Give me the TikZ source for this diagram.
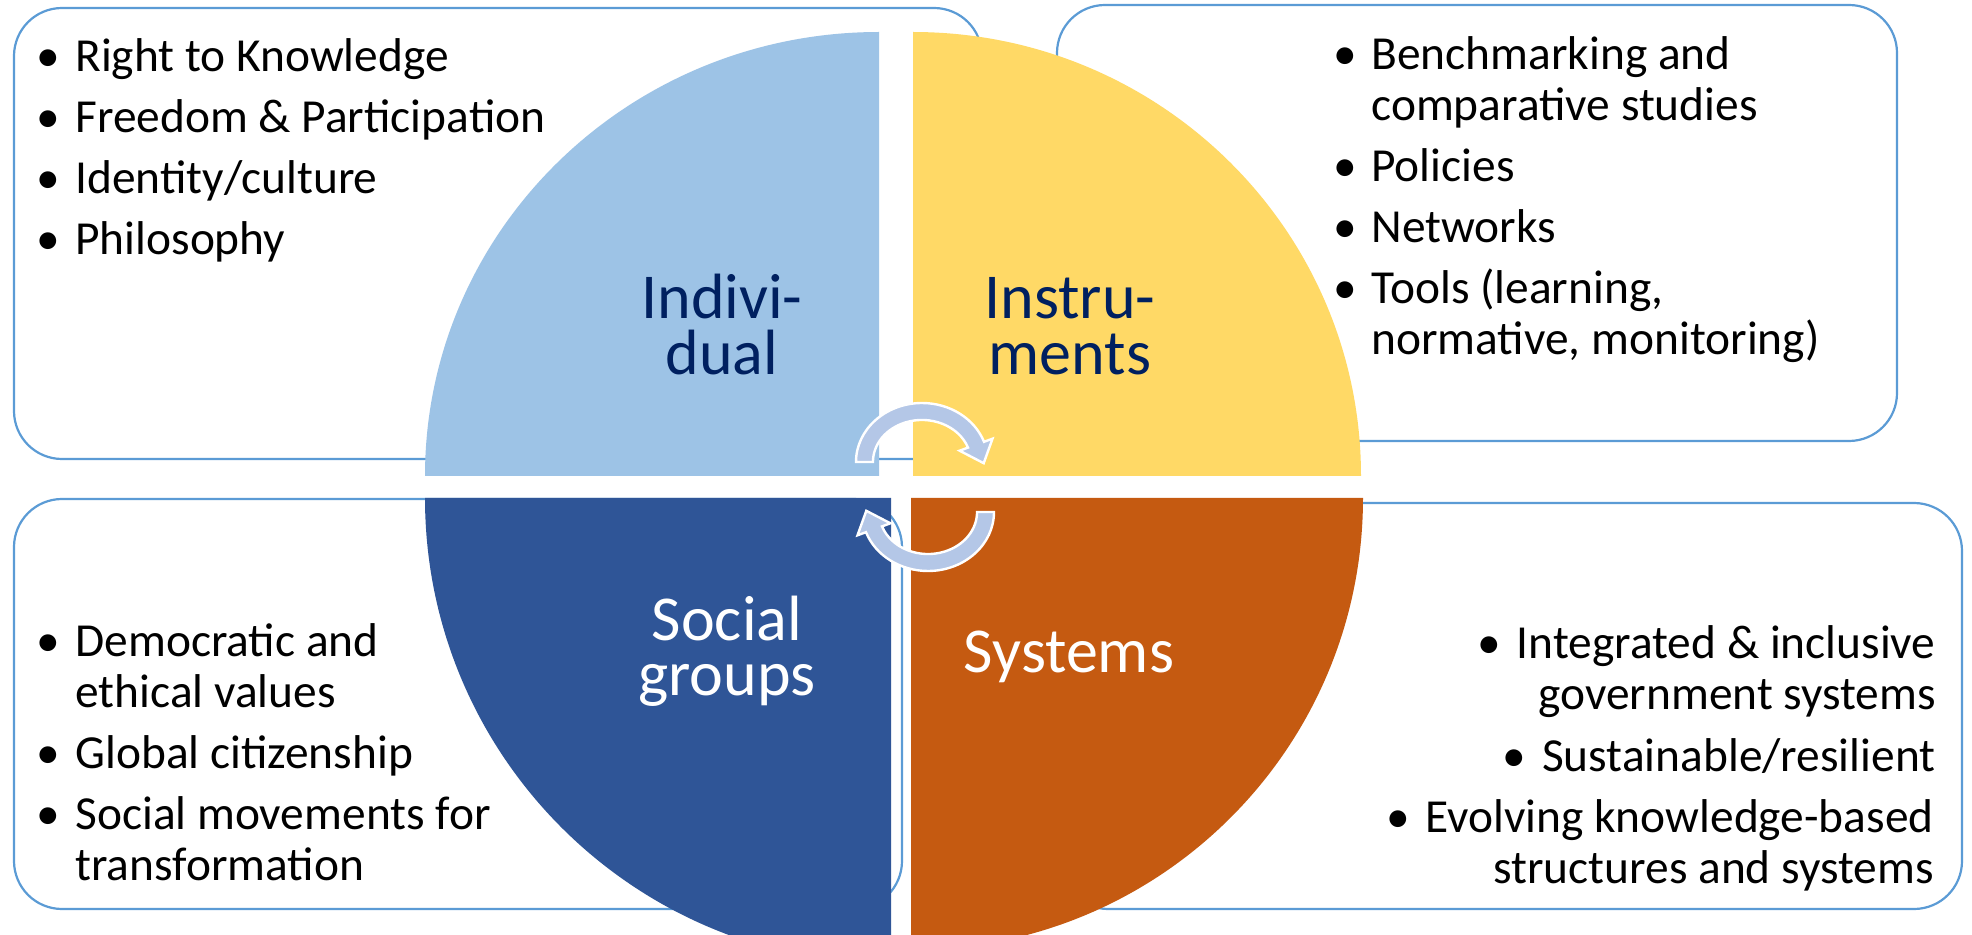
\documentclass[tikz,border=0pt]{standalone}
\usepackage{fontspec}
\setmainfont{Carlito}
\definecolor{lblue}{HTML}{9DC3E6}
\definecolor{yellowq}{HTML}{FFD966}
\definecolor{dblue}{HTML}{2F5597}
\definecolor{orangeq}{HTML}{C55A11}
\definecolor{boxblue}{HTML}{5B9BD5}
\definecolor{arrowblue}{HTML}{B4C7E7}
\definecolor{navy}{HTML}{002060}
\begin{document}
\begin{tikzpicture}[x=0.5pt,y=-0.5pt,
  cbox/.style={draw=boxblue, line width=1.1pt, fill=white, rounded corners=24pt},
  txt/.style={font=\fontsize{23.7}{28}\selectfont, inner sep=0pt, text=black},
  lab/.style={font=\fontsize{32}{28}\selectfont, inner sep=0pt, align=center, anchor=base},
  cyc/.style={fill=arrowblue, draw=white, line width=1.2pt}]
\useasboundingbox (0,0) rectangle (1972,935);
\clip (0,0) rectangle (1972,935);
% text boxes
\draw[cbox] (14,8) rectangle (982,459);
\draw[cbox] (1057,5) rectangle (1897,441);
\draw[cbox] (14,499) rectangle (902,909);
\draw[cbox] (1060,503) rectangle (1962,909);
% quadrants
\fill[lblue] (879,476) -- (425,476) arc[start angle=180, end angle=90, x radius=227pt, y radius=222pt] -- cycle;
\fill[yellowq] (913,476) -- (913,32) arc[start angle=90, end angle=0, x radius=224pt, y radius=222pt] -- cycle;
\fill[dblue] (891,498) -- (425,498) arc[start angle=180, end angle=270, x radius=233pt, y radius=233pt] -- cycle;
\fill[orangeq] (911,498) -- (1363,498) arc[start angle=0, end angle=-90, x radius=226pt, y radius=226pt] -- cycle;
% circular arrows
\begin{scope}[shift={(922,462)}]
\filldraw[cyc] (-66,0) arc[start angle=180, end angle=20, x radius=33pt, y radius=29.5pt]
  -- (70.5,-23.3) -- (61.7,1.2) -- (37.6,-11.3) -- (46.0,-14.4)
  arc[start angle=20, end angle=180, x radius=24.5pt, y radius=21pt] -- cycle;
\end{scope}
\begin{scope}[shift={(928,512)}]
\filldraw[cyc] (66,0) arc[start angle=0, end angle=-160, x radius=33pt, y radius=29.5pt]
  -- (-70.5,23.3) -- (-61.7,-1.2) -- (-37.6,11.3) -- (-46.0,14.4)
  arc[start angle=-160, end angle=0, x radius=24.5pt, y radius=21pt] -- cycle;
\end{scope}
% quadrant labels (anchor = baseline of last line)
\node[lab, text=navy] (ind) at (722,375) {Indivi-\\dual};
\node[lab, text=navy] (ins) at (1070,375) {Instru-\\ments};
\node[lab, text=white] (soc) at (727,696) {Social\\groups};
\node[lab, text=white] (sys) at (1069,673) {Systems};
% top-left list
\node[txt, anchor=base] (tlb1) at (48,72) {\textbullet};
\node[txt, anchor=base west] (tl1) at (75,72) {Right to Knowledge};
\node[txt, anchor=base] (tlb2) at (48,133) {\textbullet};
\node[txt, anchor=base west] (tl2) at (75,133) {Freedom \& Participation};
\node[txt, anchor=base] (tlb3) at (48,194) {\textbullet};
\node[txt, anchor=base west] (tl3) at (75,194) {Identity/culture};
\node[txt, anchor=base] (tlb4) at (48,255) {\textbullet};
\node[txt, anchor=base west] (tl4) at (75,255) {Philosophy};
% top-right list
\node[txt, anchor=base] (trb1) at (1345,70) {\textbullet};
\node[txt, anchor=base west] (tr1) at (1371,70) {Benchmarking and};
\node[txt, anchor=base west] (tr1b) at (1371,121) {comparative studies};
\node[txt, anchor=base] (trb2) at (1345,182) {\textbullet};
\node[txt, anchor=base west] (tr2) at (1371,182) {Policies};
\node[txt, anchor=base] (trb3) at (1345,243) {\textbullet};
\node[txt, anchor=base west] (tr3) at (1371,243) {Networks};
\node[txt, anchor=base] (trb4) at (1345,304) {\textbullet};
\node[txt, anchor=base west] (tr4) at (1371,304) {Tools (learning,};
\node[txt, anchor=base west] (tr4b) at (1371,355) {normative, monitoring)};
% bottom-left list
\node[txt, anchor=base] (blb1) at (48,656) {\textbullet};
\node[txt, anchor=base west] (bl1) at (75,656) {Democratic and};
\node[txt, anchor=base west] (bl1b) at (75,707) {ethical values};
\node[txt, anchor=base] (blb2) at (48,768) {\textbullet};
\node[txt, anchor=base west] (bl2) at (75,768) {Global citizenship};
\node[txt, anchor=base] (blb3) at (48,829) {\textbullet};
\node[txt, anchor=base west] (bl3) at (75,829) {Social movements for};
\node[txt, anchor=base west] (bl3b) at (75,880) {transformation};
% bottom-right list
\node[txt, anchor=base east] (br1) at (1936,659) {Integrated \& inclusive};
\node[txt, anchor=base] (brb1) at ([xshift=-13.5pt]br1.base west) {\textbullet};
\node[txt, anchor=base east] (br1b) at (1936,710) {government systems};
\node[txt, anchor=base east] (br2) at (1936,771) {Sustainable/resilient};
\node[txt, anchor=base] (brb2) at ([xshift=-13.5pt]br2.base west) {\textbullet};
\node[txt, anchor=base east] (br3) at (1934,832) {Evolving knowledge-based};
\node[txt, anchor=base] (brb3) at ([xshift=-13.5pt]br3.base west) {\textbullet};
\node[txt, anchor=base east] (br3b) at (1934,883) {structures and systems};
\end{tikzpicture}
\end{document}
